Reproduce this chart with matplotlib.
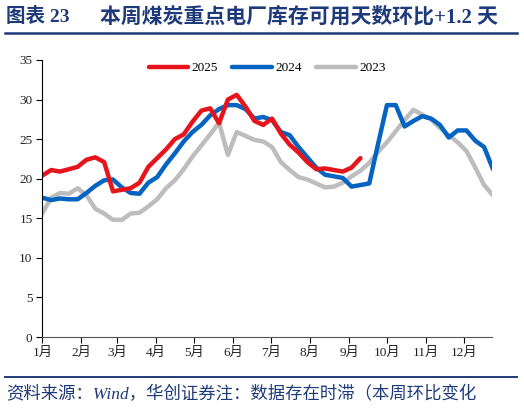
import matplotlib
matplotlib.use("Agg")
import matplotlib.pyplot as plt
import numpy as np

# ---- data (weekly, starting Jan 1) ----
months = ["1月", "2月", "3月", "4月", "5月", "6月", "7月", "8月", "9月", "10月", "11月", "12月"]
month_start_days = [0, 31, 59, 90, 120, 151, 181, 212, 243, 273, 304, 334]

s2025 = [20.4, 21.1, 20.9, 21.2, 21.5, 22.4, 22.7, 22.1, 18.4, 18.6, 18.8, 19.5,
         21.5, 22.6, 23.7, 25.0, 25.6, 27.2, 28.6, 28.9, 27.0, 30.0, 30.6, 29.1,
         27.3, 26.8, 27.6, 25.7, 24.3, 23.3, 22.1, 21.2, 21.3, 21.1, 20.9, 21.4, 22.6]

s2024 = [17.6, 17.3, 17.5, 17.4, 17.4, 18.2, 19.1, 19.8, 19.9, 18.9, 18.2, 18.1,
         19.5, 20.2, 21.8, 23.2, 24.7, 25.9, 26.8, 28.0, 28.8, 29.3, 29.3, 28.8,
         27.6, 27.8, 27.4, 25.9, 25.5, 24.0, 22.7, 21.4, 20.5, 20.3, 20.1, 19.0,
         19.2, 19.4, 24.4, 29.3, 29.3, 26.6, 27.3, 27.9, 27.6, 26.8, 25.2, 26.1,
         26.1, 24.8, 24.0, 21.2]

s2023 = [15.6, 17.6, 18.2, 18.1, 18.8, 17.9, 16.2, 15.6, 14.8, 14.8, 15.6, 15.7,
         16.5, 17.4, 18.8, 19.8, 21.2, 22.8, 24.2, 25.6, 27.1, 23.0, 25.9, 25.4,
         24.9, 24.7, 24.0, 22.1, 21.1, 20.2, 19.9, 19.4, 18.9, 19.0, 19.5, 20.3,
         21.0, 22.0, 23.4, 24.6, 26.0, 27.4, 28.7, 28.1, 27.5, 26.4, 25.5, 24.6,
         23.5, 21.4, 19.2, 17.9]

series = [("2025", s2025, "#E8141C"), ("2024", s2024, "#0563C1"), ("2023", s2023, "#BDBDBD")]

title_label = "图表 23"
title_text = "本周煤炭重点电厂库存可用天数环比+1.2 天"
footer_text = "资料来源：Wind，华创证券注：数据存在时滞（本周环比变化"

navy = "#1F3A7A"
mixed = ["Liberation Serif", "Noto Sans CJK SC", "DejaVu Sans"]

fig = plt.figure(figsize=(5.24, 4.09), dpi=100)
ax = fig.add_axes([42.3 / 524, 72 / 409, 449.4 / 524, 277 / 409])

# draw 2023 first so 2025 sits on top
for name, vals, col in reversed(series):
    days = np.arange(len(vals)) * 7
    ax.plot(days, vals, color=col, lw=3.2, label=name, solid_capstyle="round", solid_joinstyle="round")

ax.set_xlim(0, 356)
ax.set_ylim(0, 35)
ax.set_yticks(np.arange(0, 36, 5))
ax.set_xticks(month_start_days)
ax.set_xticklabels(months)
for lab in ax.get_xticklabels() + ax.get_yticklabels():
    lab.set_family(mixed)
    lab.set_fontsize(9.5)
    lab.set_color("#222222")

ax.spines["top"].set_visible(False)
ax.spines["right"].set_visible(False)
ax.spines["left"].set_color("black")
ax.spines["bottom"].set_color("#555555")
ax.tick_params(axis="both", direction="out", length=4, width=0.8, pad=3)

handles, labels = ax.get_legend_handles_labels()
order = [labels.index(n) for n, _, _ in series]
leg = ax.legend([handles[i] for i in order], [labels[i] for i in order],
                loc="center", bbox_to_anchor=(0.5, 0.97), ncol=3, frameon=False,
                handlelength=3.0, handletextpad=0.25, columnspacing=1.1,
                prop={"family": mixed, "size": 9.5})

fig.text(6 / 524, 1 - 17 / 409, title_label, ha="left", va="center",
         fontsize=14, fontweight="bold", color=navy, family=mixed)
fig.text(100 / 524, 1 - 17 / 409, title_text, ha="left", va="center",
         fontsize=15, fontweight="bold", color=navy, family=mixed)
fig.add_artist(plt.Line2D([5 / 524, 517 / 524], [1 - 33 / 409, 1 - 33 / 409],
                          color=navy, lw=1.8, transform=fig.transFigure))
fig.add_artist(plt.Line2D([5 / 524, 517 / 524], [1 - 377 / 409, 1 - 377 / 409],
                          color=navy, lw=1.4, transform=fig.transFigure))
fig.text(6 / 524, 1 - 395 / 409, footer_text, ha="left", va="center",
         fontsize=12.5, style="italic", color=navy, family=mixed)

fig.savefig("out.png", dpi=100)
